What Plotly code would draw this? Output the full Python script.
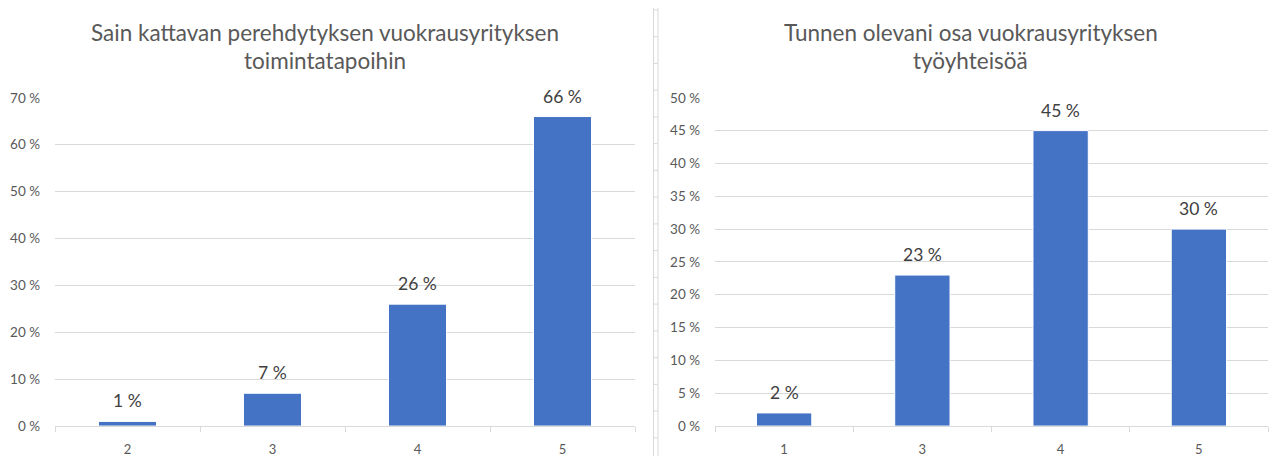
import plotly.graph_objects as go

# Survey answers (scale 1-5) and share of respondents
left_title = ["Sain kattavan perehdytyksen vuokrausyrityksen", "toimintatapoihin"]
left_categories = ["2", "3", "4", "5"]
left_values = [1, 7, 26, 66]
left_ticks = [0, 10, 20, 30, 40, 50, 60, 70]

right_title = ["Tunnen olevani osa vuokrausyrityksen", "työyhteisöä"]
right_categories = ["1", "3", "4", "5"]
right_values = [2, 23, 45, 30]
right_ticks = [0, 5, 10, 15, 20, 25, 30, 35, 40, 45, 50]

W, H = 1271, 464
BAR = "#4472C4"
GRID = "#d9d9d9"
TXT = "#595959"
LBL = "#404040"
FONT = "Lato, 'Open Sans', sans-serif"


def px_x(p):
    return p / W


def px_y(p):
    return 1 - p / H


fig = go.Figure()

fig.add_trace(go.Bar(x=left_categories, y=left_values, xaxis="x", yaxis="y",
                     marker=dict(color=BAR, line=dict(color="white", width=1)),
                     width=0.4, hoverinfo="skip"))
fig.add_trace(go.Bar(x=right_categories, y=right_values, xaxis="x2", yaxis="y2",
                     marker=dict(color=BAR, line=dict(color="white", width=1)),
                     width=0.4, hoverinfo="skip"))

ydom = [px_y(433), px_y(93)]

common_x = dict(type="category", showgrid=False, showline=True, linecolor=GRID,
                linewidth=1, ticks="outside", tickson="boundaries", ticklen=5,
                tickcolor=GRID, tickfont=dict(size=13, color=TXT, family=FONT),
                ticklabelstandoff=11, range=[-0.5, 3.5],
                fixedrange=True, zeroline=False)
common_y = dict(showgrid=True, gridcolor=GRID, gridwidth=1, zeroline=False,
                showline=False, ticks="",
                tickfont=dict(size=13.5, color=TXT, family=FONT),
                ticklabelstandoff=14, fixedrange=True)

fig.update_layout(
    width=W, height=H,
    margin=dict(l=0, r=0, t=0, b=0),
    paper_bgcolor="white", plot_bgcolor="white",
    showlegend=False,
    xaxis=dict(domain=[px_x(55), px_x(635)], anchor="y", **common_x),
    yaxis=dict(domain=ydom, anchor="x", range=[0, 70], tickvals=left_ticks,
               ticktext=[f"{t} %" for t in left_ticks], **common_y),
    xaxis2=dict(domain=[px_x(715), px_x(1268)], anchor="y2", **common_x),
    yaxis2=dict(domain=ydom, anchor="x2", range=[0, 50], tickvals=right_ticks,
                ticktext=[f"{t} %" for t in right_ticks], **common_y),
)

annotations = []
# Chart titles, one annotation per line
for title, cx in ((left_title, 325), (right_title, 971)):
    for line, cy in zip(title, (25, 54)):
        annotations.append(dict(text=line, x=px_x(cx), y=px_y(cy), xref="paper", yref="paper",
                                xanchor="center", yanchor="middle", showarrow=False,
                                font=dict(size=22.5, color=TXT, family=FONT)))
# Value labels above the bars
for vals, xr, yr in ((left_values, "x", "y"), (right_values, "x2", "y2")):
    for i, v in enumerate(vals):
        annotations.append(dict(text=f"{v} %", x=i, y=v, xref=xr, yref=yr,
                                xanchor="center", yanchor="bottom", yshift=8,
                                showarrow=False,
                                font=dict(size=17.5, color=LBL, family=FONT)))
fig.update_layout(annotations=annotations)

# Divider between the two charts
shapes = []
for xp in (653.5, 658):
    shapes.append(dict(type="line", xref="paper", yref="paper",
                       x0=px_x(xp), x1=px_x(xp), y0=px_y(0), y1=px_y(464),
                       line=dict(color=GRID, width=1)))
k = 0
while 2 + 27.7 * k < H:
    yp = 2 + 27.7 * k
    shapes.append(dict(type="line", xref="paper", yref="paper",
                       x0=px_x(653.5), x1=px_x(658), y0=px_y(yp), y1=px_y(yp),
                       line=dict(color=GRID, width=1)))
    k += 1
fig.update_layout(shapes=shapes)

fig.write_html("out.html")
